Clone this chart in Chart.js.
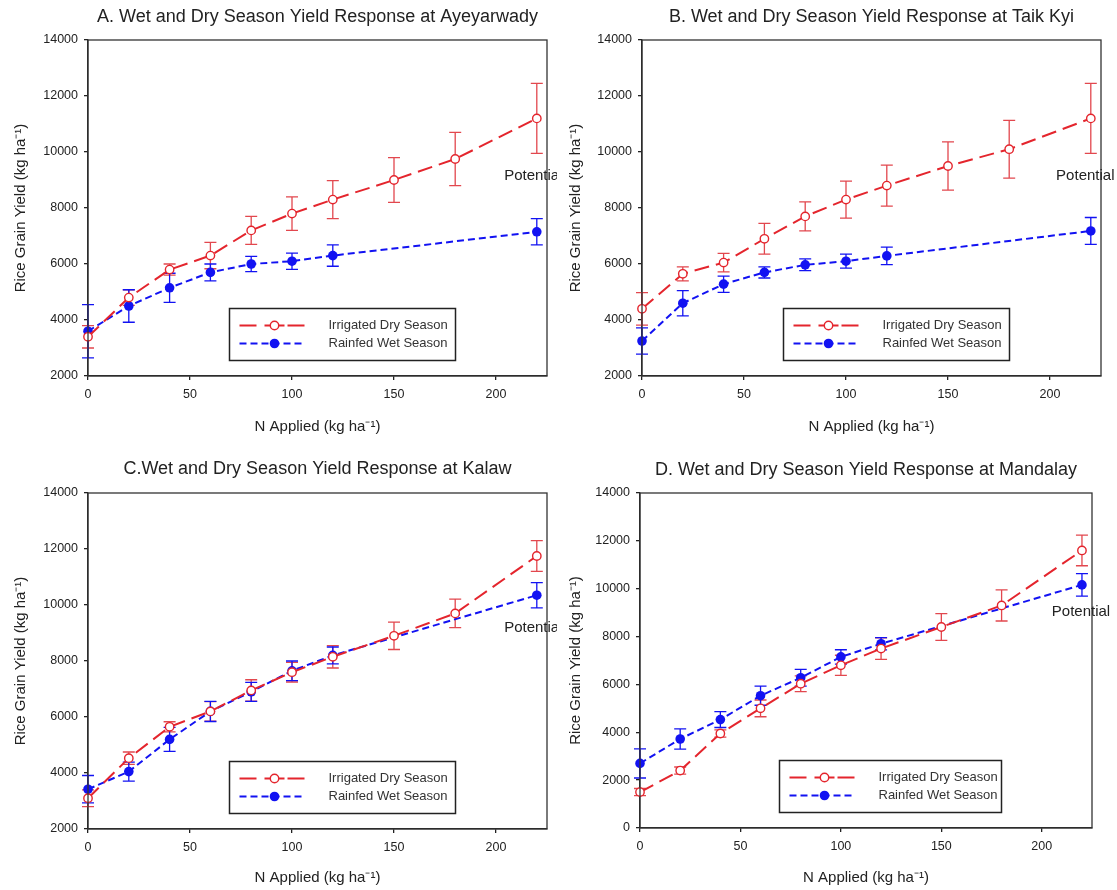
<!DOCTYPE html>
<html lang="en">
<head>
<meta charset="UTF-8">
<title>Wet and Dry Season Yield Response</title>
<script src="https://cdn.jsdelivr.net/npm/chart.js"></script>
<style>
  body { margin: 0; background: #fff; }
  #wrap { position: relative; width: 1117px; height: 890px; overflow: hidden; }
  canvas { position: absolute; }
</style>
</head>
<body>
<div id="wrap">
  <canvas id="chartA" width="557" height="445" style="left:0;top:0;width:557px;height:445px"></canvas>
  <canvas id="chartB" width="560" height="445" style="left:557px;top:0;width:560px;height:445px"></canvas>
  <canvas id="chartC" width="557" height="445" style="left:0;top:445px;width:557px;height:445px"></canvas>
  <canvas id="chartD" width="560" height="445" style="left:557px;top:445px;width:560px;height:445px"></canvas>
</div>
<script>
// N rates (kg ha-1)
const nIrrigated = [0, 20, 40, 60, 80, 100, 120, 150, 180, 220];
const nRainfed = [0, 20, 40, 60, 80, 100, 120, 220];

// A. Ayeyarwady
const ayeIrrigated = [3400, 4800, 5800, 6300, 7200, 7800, 8300, 9000, 9750, 11200];
const ayeIrrigatedErr = [400, 280, 200, 470, 500, 600, 680, 800, 950, 1250];
const ayeRainfed = [3600, 4500, 5150, 5700, 6000, 6100, 6300, 7150];
const ayeRainfedErr = [950, 580, 520, 300, 270, 290, 380, 470];

// B. Taik Kyi
const taikIrrigated = [4400, 5650, 6050, 6900, 7700, 8300, 8800, 9500, 10100, 11200];
const taikIrrigatedErr = [580, 250, 330, 550, 520, 660, 730, 860, 1030, 1250];
const taikRainfed = [3250, 4600, 5280, 5700, 5970, 6100, 6290, 7180];
const taikRainfedErr = [470, 450, 290, 200, 210, 250, 310, 480];

// C. Kalaw
const kalawIrrigated = [3100, 4530, 5650, 6200, 6950, 7600, 8150, 8900, 9700, 11750];
const kalawIrrigatedErr = [300, 220, 180, 350, 380, 350, 400, 490, 510, 550];
const kalawRainfed = [3420, 4050, 5200, 6200, 6900, 7650, 8200, 10350];
const kalawRainfedErr = [490, 340, 430, 360, 340, 350, 300, 450];

// D. Mandalay
const mandIrrigated = [1500, 2400, 3950, 5000, 6030, 6800, 7500, 8400, 9300, 11600];
const mandIrrigatedErr = [150, 150, 150, 350, 330, 420, 450, 560, 650, 640];
const mandRainfed = [2700, 3720, 4530, 5530, 6280, 7150, 7700, 10160];
const mandRainfedErr = [610, 420, 330, 400, 350, 300, 260, 470];

const RED = '#e4252d';
const RED_ERR = '#e2474e';
const BLUE = '#1212f2';
const FONT = 'Arial, "Liberation Sans", sans-serif';

Chart.defaults.font.family = FONT;
Chart.defaults.color = '#222';

function points(xs, ys) {
  return xs.map((x, i) => ({ x: x, y: ys[i] }));
}

// vertical error bars with caps, drawn under the markers
const errorBars = {
  id: 'errorBars',
  beforeDatasetsDraw(chart) {
    const ctx = chart.ctx;
    const xs = chart.scales.x, ys = chart.scales.y;
    chart.data.datasets.forEach(ds => {
      ctx.save();
      ctx.strokeStyle = ds.errColor;
      ctx.lineWidth = 1.3;
      ds.data.forEach((p, i) => {
        const e = ds.errors[i];
        const px = xs.getPixelForValue(p.x);
        const y1 = ys.getPixelForValue(p.y + e);
        const y2 = ys.getPixelForValue(p.y - e);
        ctx.beginPath();
        ctx.moveTo(px, y1); ctx.lineTo(px, y2);
        ctx.moveTo(px - 6, y1); ctx.lineTo(px + 6, y1);
        ctx.moveTo(px - 6, y2); ctx.lineTo(px + 6, y2);
        ctx.stroke();
      });
      ctx.restore();
    });
  }
};

// box round the plot area, legend and "Potential" note
const decorations = {
  id: 'decorations',
  afterDraw(chart, args, opts) {
    const ctx = chart.ctx;
    const a = chart.chartArea;
    ctx.save();
    ctx.strokeStyle = '#333';
    ctx.lineWidth = 1.3;
    ctx.strokeRect(a.left, a.top, a.right - a.left, a.bottom - a.top);

    // legend box
    const w = a.right - a.left, h = a.bottom - a.top;
    const bx = Math.round(a.left + 0.308 * w) + 0.5;
    const by = Math.round(a.top + 0.798 * h) + 0.5;
    const bw = Math.round(0.492 * w), bh = 52;
    ctx.fillStyle = '#fff';
    ctx.fillRect(bx, by, bw, bh);
    ctx.strokeStyle = '#222';
    ctx.lineWidth = 1.5;
    ctx.strokeRect(bx, by, bw, bh);

    const x0 = bx + 10, x1 = bx + 75, mx = bx + 45;
    const rows = [by + 17, by + 35];
    const [irr, rain] = chart.data.datasets;

    // irrigated row: long dashes, open circle
    ctx.strokeStyle = RED;
    ctx.lineWidth = 2;
    ctx.beginPath();
    ctx.moveTo(x0, rows[0]); ctx.lineTo(x0 + 17, rows[0]);
    ctx.moveTo(mx - 10, rows[0]); ctx.lineTo(mx + 10, rows[0]);
    ctx.moveTo(x1 - 17, rows[0]); ctx.lineTo(x1, rows[0]);
    ctx.stroke();
    ctx.beginPath();
    ctx.arc(mx, rows[0], 4.2, 0, Math.PI * 2);
    ctx.fillStyle = '#fff';
    ctx.fill();
    ctx.lineWidth = 1.4;
    ctx.stroke();

    // rainfed row: short dashes, filled circle
    ctx.strokeStyle = BLUE;
    ctx.lineWidth = 2;
    ctx.setLineDash([7, 4]);
    ctx.beginPath();
    ctx.moveTo(x0, rows[1]); ctx.lineTo(x1, rows[1]);
    ctx.stroke();
    ctx.setLineDash([]);
    ctx.beginPath();
    ctx.arc(mx, rows[1], 4.8, 0, Math.PI * 2);
    ctx.fillStyle = BLUE;
    ctx.fill();

    ctx.fillStyle = '#333';
    ctx.font = '13px ' + FONT;
    ctx.textAlign = 'left';
    ctx.textBaseline = 'middle';
    ctx.fillText(irr.label, bx + 99, rows[0]);
    ctx.fillText(rain.label, bx + 99, rows[1]);

    // "Potential" note
    ctx.fillStyle = '#222';
    ctx.font = '15px ' + FONT;
    ctx.fillText('Potential', chart.scales.x.getPixelForValue(opts.potential[0]),
      chart.scales.y.getPixelForValue(opts.potential[1]));
    ctx.restore();
  }
};

function makeChart(id, p) {
  const titleFont = 18, titleLH = titleFont * 1.2;
  const axisFont = 15, axisLH = axisFont * 1.2;
  new Chart(document.getElementById(id), {
    type: 'line',
    data: {
      datasets: [{
        label: 'Irrigated Dry Season',
        data: points(nIrrigated, p.irr),
        errors: p.irrErr,
        errColor: RED_ERR,
        borderColor: RED,
        borderWidth: 2,
        borderDash: [15, 7],
        pointRadius: 4.2,
        pointBorderWidth: 1.4,
        pointBackgroundColor: '#fff',
        pointBorderColor: RED,
        tension: 0,
        clip: false
      }, {
        label: 'Rainfed Wet Season',
        data: points(nRainfed, p.rain),
        errors: p.rainErr,
        errColor: BLUE,
        borderColor: BLUE,
        borderWidth: 2,
        borderDash: [7, 4],
        pointRadius: 4.8,
        pointBorderWidth: 0,
        pointBackgroundColor: BLUE,
        pointBorderColor: BLUE,
        tension: 0,
        clip: false
      }]
    },
    options: {
      responsive: false,
      animation: false,
      events: [],
      layout: { padding: { left: 0, top: 0, right: p.W - p.right, bottom: 0 } },
      plugins: {
        legend: { display: false },
        tooltip: { enabled: false },
        title: {
          display: true,
          text: p.title,
          fullSize: false,
          color: '#222',
          font: { size: titleFont, weight: 'normal' },
          padding: { top: p.titleY - titleLH / 2, bottom: p.top - p.titleY - titleLH / 2 }
        },
        decorations: { potential: p.potential }
      },
      scales: {
        x: {
          type: 'linear',
          min: 0,
          max: 225,
          afterFit(s) { s.height = p.H - p.bottom; },
          ticks: { stepSize: 50, includeBounds: false, padding: 7, color: '#222', font: { size: 12.5 } },
          grid: { display: true, drawOnChartArea: false, drawTicks: true, tickLength: 4, color: '#222', lineWidth: 1.3 },
          border: { display: true, color: '#222', width: 1.3 },
          title: {
            display: true,
            text: 'N Applied (kg ha\u207B\u00B9)',
            color: '#222',
            font: { size: axisFont },
            padding: { top: 0, bottom: p.H - p.xTitleY - axisLH / 2 }
          }
        },
        y: {
          type: 'linear',
          min: p.yMin,
          max: 14000,
          afterFit(s) { s.width = p.left; },
          ticks: { stepSize: 2000, padding: 6, color: '#222', font: { size: 12.5 }, format: { useGrouping: false } },
          grid: { display: true, drawOnChartArea: false, drawTicks: true, tickLength: 4, color: '#222', lineWidth: 1.3 },
          border: { display: true, color: '#222', width: 1.3 },
          title: {
            display: true,
            text: 'Rice Grain Yield (kg ha\u207B\u00B9)',
            color: '#222',
            font: { size: axisFont },
            padding: { top: p.yTitleX - axisLH / 2, bottom: 0 }
          }
        }
      }
    },
    plugins: [errorBars, decorations]
  });
}

makeChart('chartA', {
  title: 'A. Wet and Dry Season Yield Response at Ayeyarwady',
  irr: ayeIrrigated, irrErr: ayeIrrigatedErr, rain: ayeRainfed, rainErr: ayeRainfedErr,
  yMin: 2000, W: 557, H: 445, left: 88, right: 547, top: 40, bottom: 376,
  titleY: 17, xTitleY: 427, yTitleX: 21, potential: [204, 9150]
});
makeChart('chartB', {
  title: 'B. Wet and Dry Season Yield Response at Taik Kyi',
  irr: taikIrrigated, irrErr: taikIrrigatedErr, rain: taikRainfed, rainErr: taikRainfedErr,
  yMin: 2000, W: 560, H: 445, left: 85, right: 544, top: 40, bottom: 376,
  titleY: 17, xTitleY: 427, yTitleX: 19, potential: [203, 9150]
});
makeChart('chartC', {
  title: 'C.Wet and Dry Season Yield Response at Kalaw',
  irr: kalawIrrigated, irrErr: kalawIrrigatedErr, rain: kalawRainfed, rainErr: kalawRainfedErr,
  yMin: 2000, W: 557, H: 445, left: 88, right: 547, top: 48, bottom: 384,
  titleY: 24, xTitleY: 433, yTitleX: 21, potential: [204, 9190]
});
makeChart('chartD', {
  title: 'D. Wet and Dry Season Yield Response at Mandalay',
  irr: mandIrrigated, irrErr: mandIrrigatedErr, rain: mandRainfed, rainErr: mandRainfedErr,
  yMin: 0, W: 560, H: 445, left: 83, right: 535, top: 48, bottom: 383,
  titleY: 25, xTitleY: 433, yTitleX: 19, potential: [205, 9040]
});
</script>
</body>
</html>
